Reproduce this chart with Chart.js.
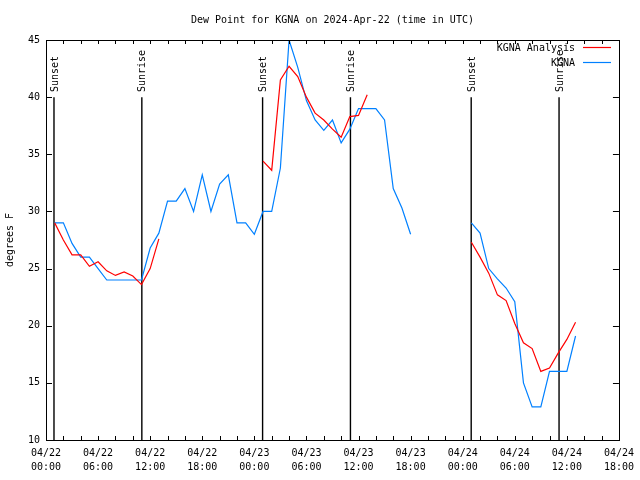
<!DOCTYPE html>
<html>
<head>
  <meta charset="utf-8">
  <title>Dew Point for KGNA</title>
  <script src="https://cdn.jsdelivr.net/npm/chart.js@4.4.0/dist/chart.umd.min.js"></script>
  <style>
    html, body {
      margin: 0;
      padding: 0;
      background: #fff;
    }
    #dew {
      display: block;
    }
  </style>
</head>
<body>
  <canvas id="dew" width="640" height="480"></canvas>
  <script>
    // hours since 04/22 00:00 UTC
    const tickDates = ['04/22', '04/22', '04/22', '04/22', '04/23', '04/23', '04/23', '04/23', '04/24', '04/24', '04/24', '04/24'];
    const tickTimes = ['00:00', '06:00', '12:00', '18:00', '00:00', '06:00', '12:00', '18:00', '00:00', '06:00', '12:00', '18:00'];

    const obsHours = [1, 2, 3, 4, 5, 6, 7, 8, 9, 10, 11, 12, 13, 14, 15, 16, 17, 18, 19, 20, 21,
      22, 23, 24, 25, 26, 27, 28, 29, 30, 31, 32, 33, 34, 35, 36, 37, 38, 39, 40, 41, 42, 45,
      49, 50, 51, 52, 53, 54, 55, 56, 57, 58, 59, 60, 61];
    const obsDew = [29, 29, 27.2, 26, 26, 25, 24, 24, 24, 24, 24, 26.8, 28.1, 30.9, 30.9, 32, 30, 33.2, 30, 32.4, 33.2,
      29, 29, 28, 30, 30, 33.8, 45, 42.6, 39.7, 38, 37.1, 38, 36, 37.2, 39, 39, 39, 38, 32, 30.3, 28, null,
      29, 28.1, 25, 24.1, 23.3, 22.1, 15, 12.9, 12.9, 16, 16, 16, 19.1];

    const anaHours = [1, 2, 3, 4, 5, 6, 7, 8, 9, 10, 11, 12, 13, 14,
      25, 26, 27, 28, 29, 30, 31, 32, 33, 34, 35, 36, 37, 38,
      49, 50, 51, 52, 53, 54, 55, 56, 57, 58, 59, 60, 61];
    const anaDew = [29, 27.5, 26.2, 26.2, 25.2, 25.6, 24.8, 24.4, 24.7, 24.35, 23.6, 25, 27.6, null,
      34.4, 33.6, 41.5, 42.7, 41.8, 40, 38.6, 38, 37.2, 36.5, 38.3, 38.4, 40.2, null,
      27.3, 26, 24.6, 22.7, 22.2, 20.2, 18.5, 18, 16, 16.3, 17.6, 18.8, 20.3];

    const sunHours = [0.92, 11.04, 24.95, 35.07, 48.98, 59.1];
    const sunNames = ['Sunset', 'Sunrise', 'Sunset', 'Sunrise', 'Sunset', 'Sunrise'];

    const FONT = "'DejaVu Sans Mono', 'Liberation Mono', monospace";
    const RED = '#ff0000';
    const BLUE = '#0080ff';

    let sunData = [];
    sunHours.forEach(h => {
      sunData.push({x: h, y: 10}, {x: h, y: 40}, {x: h, y: null});
    });

    // box, inward ticks, sunrise/sunset labels and key
    const gnuplotBits = {
      id: 'gnuplotBits',
      afterDraw(chart) {
        const ctx = chart.ctx;
        const a = chart.chartArea;
        const xs = chart.scales.x;
        const ys = chart.scales.y;
        ctx.save();
        ctx.strokeStyle = '#000';
        ctx.lineWidth = 1;
        ctx.strokeRect(Math.round(a.left) + 0.5, Math.round(a.top) + 0.5, Math.round(a.right - a.left), Math.round(a.bottom - a.top));
        ctx.beginPath();
        for (let v = 10; v <= 45; v += 5) {
          const py = Math.round(ys.getPixelForValue(v)) + 0.5;
          ctx.moveTo(a.left, py); ctx.lineTo(a.left + 6, py);
          ctx.moveTo(a.right - 6, py); ctx.lineTo(a.right, py);
        }
        for (let h = 0; h <= 66; h += 2) {
          const px = Math.round(xs.getPixelForValue(h)) + 0.5;
          ctx.moveTo(px, a.bottom); ctx.lineTo(px, a.bottom - 4);
          ctx.moveTo(px, a.top); ctx.lineTo(px, a.top + 4);
        }
        ctx.stroke();

        ctx.fillStyle = '#000';
        ctx.font = '10px ' + FONT;
        ctx.textAlign = 'left';
        ctx.textBaseline = 'middle';
        sunHours.forEach((h, i) => {
          ctx.save();
          ctx.translate(xs.getPixelForValue(h) + 1, ys.getPixelForValue(40.45));
          ctx.rotate(-Math.PI / 2);
          ctx.fillText(sunNames[i], 0, 0);
          ctx.restore();
        });

        const keys = [['KGNA Analysis', RED, 48], ['KGNA', BLUE, 63]];
        ctx.textAlign = 'right';
        keys.forEach(k => {
          ctx.fillStyle = '#000';
          ctx.fillText(k[0], 575, k[2]);
          ctx.strokeStyle = k[1];
          ctx.lineWidth = 1.2;
          ctx.beginPath();
          ctx.moveTo(583, k[2] - 0.5);
          ctx.lineTo(611, k[2] - 0.5);
          ctx.stroke();
        });
        ctx.restore();
      }
    };

    new Chart(document.getElementById('dew').getContext('2d'), {
      type: 'line',
      data: {
        datasets: [
          {
            label: 'KGNA Analysis',
            data: anaHours.map((h, i) => ({x: h, y: anaDew[i]})),
            borderColor: RED,
            borderWidth: 1.2,
            pointRadius: 0,
            tension: 0,
            spanGaps: false
          },
          {
            label: 'KGNA',
            data: obsHours.map((h, i) => ({x: h, y: obsDew[i]})),
            borderColor: BLUE,
            borderWidth: 1.2,
            pointRadius: 0,
            tension: 0,
            spanGaps: false
          },
          {
            label: 'sun',
            data: sunData,
            borderColor: '#000',
            borderWidth: 1.4,
            pointRadius: 0,
            spanGaps: false
          }
        ]
      },
      options: {
        responsive: false,
        animation: false,
        layout: {padding: {left: 0, right: 20, top: 0, bottom: 0}},
        plugins: {
          legend: {display: false},
          tooltip: {enabled: false},
          title: {
            display: true,
            text: 'Dew Point for KGNA on 2024-Apr-22 (time in UTC)',
            color: '#000',
            font: {family: FONT, size: 10, weight: 'normal'},
            padding: {top: 14, bottom: 14},
            fullSize: false
          }
        },
        scales: {
          x: {
            type: 'linear',
            min: 0,
            max: 66,
            afterFit: s => { s.height = 40; },
            grid: {display: false, drawTicks: false},
            border: {display: false},
            ticks: {
              stepSize: 6,
              autoSkip: false,
              maxRotation: 0,
              padding: 6,
              color: '#000',
              font: {family: FONT, size: 10, lineHeight: 1.4},
              callback: v => [tickDates[v / 6], tickTimes[v / 6]]
            }
          },
          y: {
            min: 10,
            max: 45,
            afterFit: s => { s.width = 46; },
            grid: {display: false, drawTicks: false},
            border: {display: false},
            ticks: {
              stepSize: 5,
              padding: 6,
              color: '#000',
              font: {family: FONT, size: 10}
            },
            title: {
              display: true,
              text: 'degrees F',
              color: '#000',
              font: {family: FONT, size: 10},
              padding: {top: 4, bottom: 4}
            }
          }
        }
      },
      plugins: [gnuplotBits]
    });
  </script>
</body>
</html>
